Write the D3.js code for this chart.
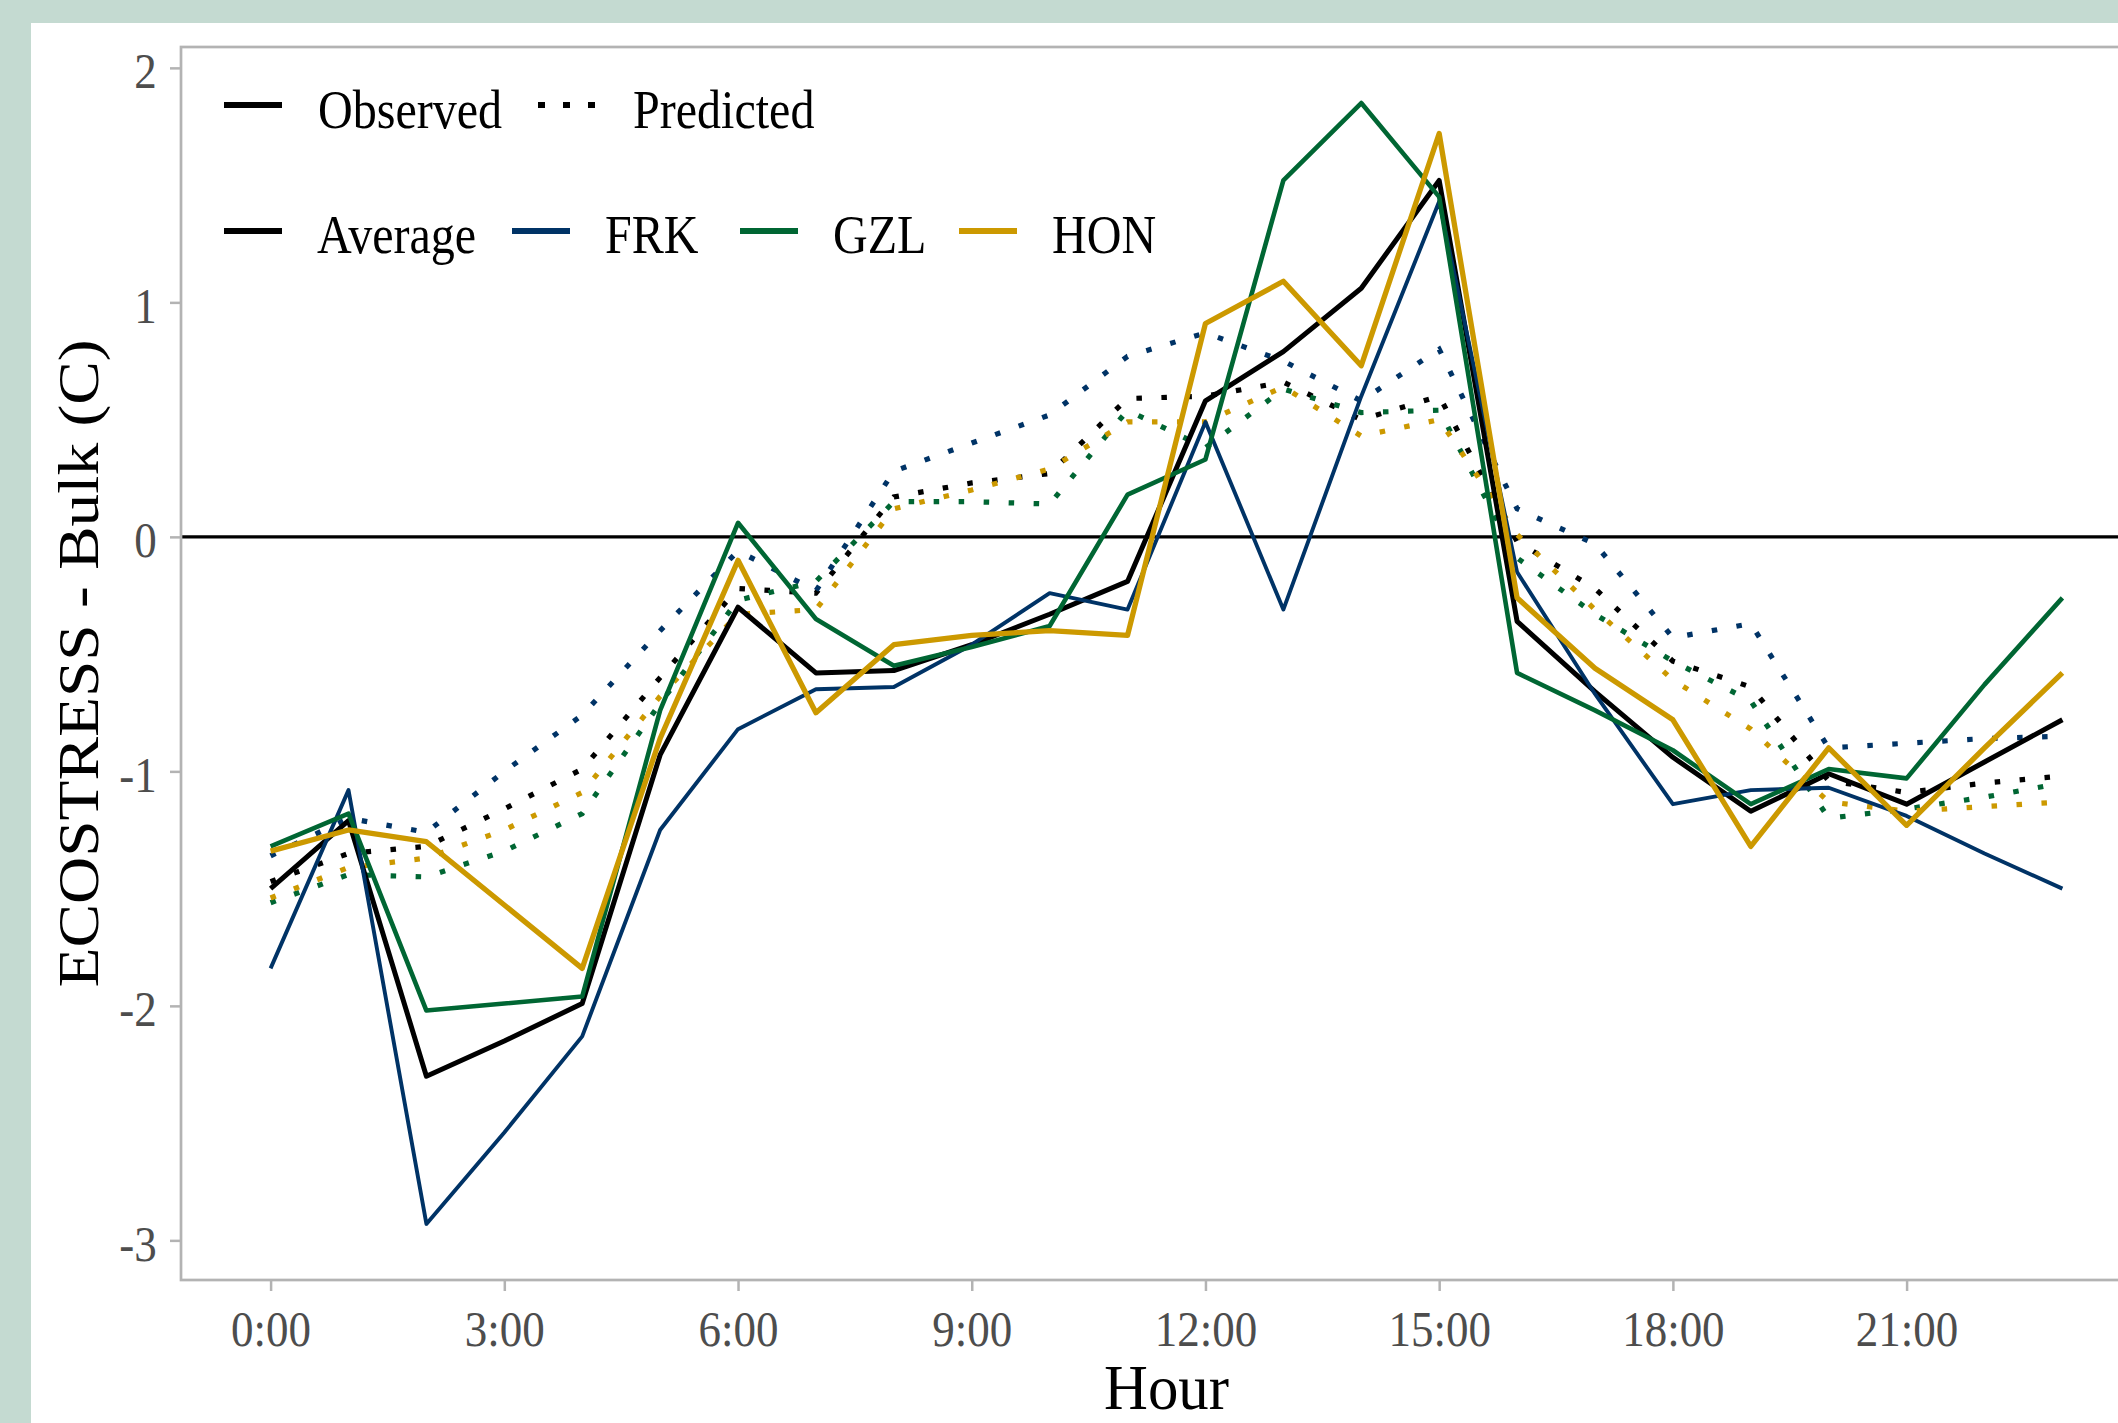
<!DOCTYPE html>
<html>
<head>
<meta charset="utf-8">
<title>ECOSTRESS - Bulk by hour</title>
<script src="https://cdn.jsdelivr.net/npm/d3@7/dist/d3.min.js"></script>
<style>
body { margin: 0; background: #c4dad1; }
svg { display: block; }
text { font-family: "Liberation Serif", "Times New Roman", serif; }
</style>
</head>
<body>
<script>
// hours of the day (x) and the ticks shown on the axes
var hours = [0, 1, 2, 3, 4, 5, 6, 7, 8, 9, 10, 11, 12, 13, 14, 15, 16, 17, 18, 19, 20, 21, 22, 23];
var xTickHours = [0, 3, 6, 9, 12, 15, 18, 21];
var xTickLabels = ["0:00", "3:00", "6:00", "9:00", "12:00", "15:00", "18:00", "21:00"];
var yTicks = [2, 1, 0, -1, -2, -3];
var yTickLabels = ["2", "1", "0", "-1", "-2", "-3"];

var sites = ["Average", "FRK", "GZL", "HON"];

// observed ECOSTRESS - Bulk (C)
var obsAverage = [-1.50, -1.21, -2.30, -2.15, -1.99, -0.93, -0.30, -0.58, -0.57, -0.46, -0.33, -0.19,
                  0.58, 0.79, 1.06, 1.52, -0.36, -0.66, -0.94, -1.17, -1.01, -1.14, -0.96, -0.78];
var obsFRK = [-1.84, -1.08, -2.93, -2.54, -2.13, -1.25, -0.82, -0.65, -0.64, -0.46, -0.24, -0.31,
              0.49, -0.31, 0.60, 1.43, -0.15, -0.67, -1.14, -1.08, -1.07, -1.19, -1.35, -1.50];
var obsGZL = [-1.32, -1.18, -2.02, -1.99, -1.96, -0.74, 0.06, -0.35, -0.55, -0.47, -0.38, 0.18,
              0.33, 1.52, 1.85, 1.45, -0.58, -0.74, -0.91, -1.14, -0.99, -1.03, -0.63, -0.26];
var obsHON = [-1.34, -1.25, -1.30, -1.57, -1.84, -0.86, -0.10, -0.75, -0.46, -0.42, -0.40, -0.42,
              0.91, 1.09, 0.73, 1.72, -0.26, -0.56, -0.78, -1.32, -0.90, -1.23, -0.90, -0.58];

// predicted ECOSTRESS - Bulk (C)
var predAverage = [-1.47, -1.35, -1.32, -1.16, -0.99, -0.60, -0.22, -0.24, 0.17, 0.23, 0.27, 0.59,
                   0.60, 0.66, 0.50, 0.60, -0.02, -0.22, -0.53, -0.64, -1.04, -1.09, -1.05, -1.02];
var predFRK = [-1.36, -1.20, -1.26, -1.00, -0.76, -0.40, -0.06, -0.23, 0.28, 0.40, 0.52, 0.77,
               0.87, 0.75, 0.58, 0.80, 0.12, -0.03, -0.43, -0.37, -0.90, -0.88, -0.86, -0.85];
var predGZL = [-1.56, -1.44, -1.45, -1.34, -1.18, -0.71, -0.27, -0.19, 0.15, 0.15, 0.14, 0.54,
               0.38, 0.63, 0.53, 0.54, -0.09, -0.33, -0.53, -0.70, -1.20, -1.16, -1.11, -1.05];
var predHON = [-1.54, -1.41, -1.37, -1.25, -1.09, -0.68, -0.33, -0.31, 0.12, 0.20, 0.29, 0.49,
               0.49, 0.64, 0.43, 0.50, 0.01, -0.31, -0.61, -0.82, -1.13, -1.17, -1.15, -1.13];

var observed = {Average: obsAverage, FRK: obsFRK, GZL: obsGZL, HON: obsHON};
var predicted = {Average: predAverage, FRK: predFRK, GZL: predGZL, HON: predHON};

var colors = {Average: "#000000", FRK: "#003366", GZL: "#006633", HON: "#cc9900"};
var widths = {Average: 5, FRK: 3.9, GZL: 4.6, HON: 5.3};

var W = 2118, H = 1423;
var panel = {left: 181, top: 47, right: 2152, bottom: 1280};

var svg = d3.select("body").append("svg")
    .attr("width", W)
    .attr("height", H);

// sage background and white card
svg.append("rect").attr("width", W).attr("height", H).attr("fill", "#c4dad1");
svg.append("rect").attr("x", 31).attr("y", 23)
    .attr("width", W - 31).attr("height", H - 23).attr("fill", "#ffffff");

// scales, with ggplot style 5% expansion
var xExt = d3.extent(hours),
    xPad = (xExt[1] - xExt[0]) * 0.05;
var allVals = d3.merge(sites.map(function(s) { return observed[s].concat(predicted[s]); }));
var yExt = d3.extent(allVals),
    yPad = (yExt[1] - yExt[0]) * 0.05;

var x = d3.scaleLinear()
    .domain([xExt[0] - xPad, xExt[1] + xPad])
    .range([panel.left, panel.right]);
var y = d3.scaleLinear()
    .domain([yExt[0] - yPad, yExt[1] + yPad])
    .range([panel.bottom, panel.top]);

// zero line
svg.append("line")
    .attr("x1", panel.left).attr("x2", panel.right)
    .attr("y1", y(0)).attr("y2", y(0))
    .attr("stroke", "#000").attr("stroke-width", 3.3);

var line = d3.line()
    .x(function(d, i) { return x(hours[i]); })
    .y(function(d) { return y(d); });

// predicted lines (dotted)
sites.forEach(function(s) {
  svg.append("path")
      .datum(predicted[s])
      .attr("d", line)
      .attr("fill", "none")
      .attr("stroke", colors[s])
      .attr("stroke-width", 5.2)
      .attr("stroke-dasharray", "5.5,19.5");
});

// observed lines (solid)
sites.forEach(function(s) {
  svg.append("path")
      .datum(observed[s])
      .attr("d", line)
      .attr("fill", "none")
      .attr("stroke", colors[s])
      .attr("stroke-width", widths[s])
      .attr("stroke-linejoin", "round");
});

// panel border
svg.append("rect")
    .attr("x", panel.left).attr("y", panel.top)
    .attr("width", panel.right - panel.left)
    .attr("height", panel.bottom - panel.top)
    .attr("fill", "none")
    .attr("stroke", "#b3b3b3")
    .attr("stroke-width", 2.7);

// x axis
var gx = svg.append("g")
    .attr("transform", "translate(0," + panel.bottom + ")")
    .call(d3.axisBottom(x)
      .tickValues(xTickHours)
      .tickFormat(function(d, i) { return xTickLabels[i]; })
      .tickSize(11));
gx.select(".domain").remove();
gx.selectAll(".tick line").attr("stroke", "#b3b3b3").attr("stroke-width", 2.5);
gx.selectAll(".tick text")
    .attr("y", 66).attr("dy", 0)
    .attr("transform", "scale(0.9,1)")
    .style("font-size", "50px")
    .attr("fill", "#4d4d4d");

// y axis
var gy = svg.append("g")
    .attr("transform", "translate(" + panel.left + ",0)")
    .call(d3.axisLeft(y)
      .tickValues(yTicks)
      .tickFormat(function(d, i) { return yTickLabels[i]; })
      .tickSize(11));
gy.select(".domain").remove();
gy.selectAll(".tick line").attr("stroke", "#b3b3b3").attr("stroke-width", 2.5);
gy.selectAll(".tick text")
    .attr("x", -27).attr("dy", "0.4em")
    .attr("transform", "scale(0.9,1)")
    .style("font-size", "50px")
    .attr("fill", "#4d4d4d");

// axis titles
svg.append("text")
    .attr("transform", "translate(" + (panel.left + panel.right) / 2 + ",1409) scale(0.95,1)")
    .attr("text-anchor", "middle")
    .style("font-size", "64px")
    .text("Hour");

svg.append("text")
    .attr("transform", "translate(98," + (panel.top + panel.bottom) / 2 + ") rotate(-90)")
    .attr("text-anchor", "middle")
    .attr("textLength", 648)
    .attr("lengthAdjust", "spacingAndGlyphs")
    .style("font-size", "58px")
    .text("ECOSTRESS - Bulk (C)");

// legend
function legendText(tx, ty, label) {
  svg.append("text")
      .attr("transform", "translate(" + tx + "," + ty + ") scale(0.89,1)")
      .style("font-size", "54px")
      .text(label);
}

// row 1: line types
svg.append("line").attr("x1", 224).attr("x2", 282).attr("y1", 105).attr("y2", 105)
    .attr("stroke", "#000").attr("stroke-width", 6);
legendText(318, 128, "Observed");
svg.append("line").attr("x1", 538).attr("x2", 595).attr("y1", 105).attr("y2", 105)
    .attr("stroke", "#000").attr("stroke-width", 6)
    .attr("stroke-dasharray", "7,18");
legendText(633, 128, "Predicted");

// row 2: sites
var legendX = [224, 512, 740, 959];
sites.forEach(function(s, i) {
  svg.append("line")
      .attr("x1", legendX[i]).attr("x2", legendX[i] + 58)
      .attr("y1", 231).attr("y2", 231)
      .attr("stroke", colors[s]).attr("stroke-width", 6);
  legendText(legendX[i] + 93, 253, s);
});
</script>
</body>
</html>
